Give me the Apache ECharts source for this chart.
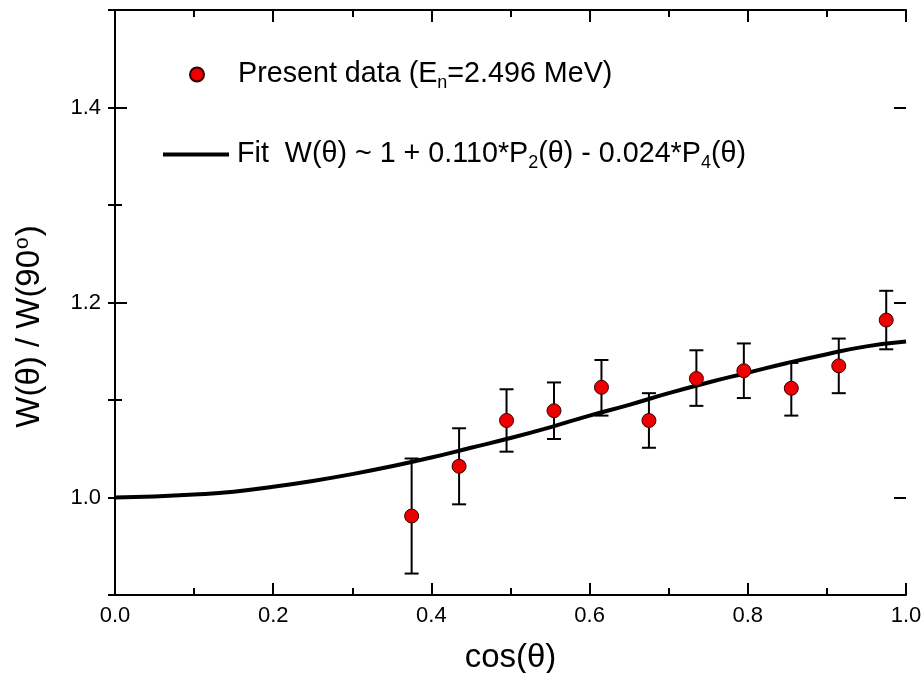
<!DOCTYPE html>
<html><head><meta charset="utf-8">
<script src="https://cdn.jsdelivr.net/npm/echarts@6/dist/echarts.min.js"></script>
<style>html,body{margin:0;padding:0;background:#fff}#c{width:924px;height:673px}</style>
</head><body><div id="c"></div>
<script>
// measured points: cos(theta), W(theta)/W(90)
const cosTheta = [0.375, 0.435, 0.495, 0.555, 0.615, 0.675, 0.735, 0.795, 0.855, 0.915, 0.975];
const ratio    = [0.981, 1.032, 1.079, 1.089, 1.113, 1.079, 1.122, 1.130, 1.112, 1.135, 1.182];
const errLow   = [0.922, 0.993, 1.047, 1.060, 1.084, 1.051, 1.094, 1.102, 1.084, 1.107, 1.152];
const errHigh  = [1.040, 1.071, 1.111, 1.118, 1.141, 1.107, 1.151, 1.158, 1.138, 1.163, 1.212];
// fit curve
const fitX = [0, 0.05, 0.1, 0.15, 0.2, 0.25, 0.3, 0.35, 0.4, 0.45, 0.5, 0.55, 0.6, 0.65, 0.7, 0.75, 0.8, 0.85, 0.9, 0.95, 1.0];
const fitY = [1.000, 1.001, 1.003, 1.006, 1.011, 1.017, 1.024, 1.032, 1.041, 1.051, 1.061, 1.072, 1.084, 1.095, 1.107, 1.118, 1.128, 1.138, 1.147, 1.155, 1.160];
// axes
const xMin = 0, xMax = 1, xStep = 0.2;
const yMin = 0.9, yMax = 1.5, yMinorStep = 0.1, yMajorStep = 0.2;
const yMajorLabels = ['1.0', '1.2', '1.4'];
const seriesNames = ['Present data', 'Fit'];

const FONT = '"Liberation Sans", Arial, sans-serif';
const chart = echarts.init(document.getElementById('c'), null, {renderer: 'canvas'});

const axisLine = {show: true, lineStyle: {color: '#000', width: 2}};
const gridTop = 10, gridBottom = 78, H = 673;
const pxPerUnit = (H - gridTop - gridBottom) / (yMax - yMin);
const ext = yMinorStep * pxPerUnit;
const LEG_FS = 28.7;

const option = {
  backgroundColor: '#fff',
  animation: false,
  textStyle: {fontFamily: FONT, color: '#000'},
  grid: [
    {left: 115, right: 18, top: gridTop, bottom: gridBottom, containLabel: false, outerBoundsMode: 'none'},
    {left: 115, right: 18, top: gridTop - ext, bottom: gridBottom - ext, containLabel: false, outerBoundsMode: 'none'}
  ],
  legend: [
    {
      data: [{name: seriesNames[0], icon: 'circle'}],
      left: 189, top: 60, itemWidth: 14, itemHeight: 14, padding: 0,
      selectedMode: false,
      textStyle: {fontFamily: FONT, fontSize: LEG_FS, color: '#000', padding: [0, 0, 0, 29],
        rich: {s: {fontFamily: FONT, fontSize: 18, padding: [17, 0, 0, 0], color: '#000'}}},
      formatter: () => 'Present data (E{s|n}=2.496 MeV)'
    },
    {
      data: [{name: seriesNames[1], icon: 'rect'}],
      left: 163, top: 140, itemWidth: 66, itemHeight: 4, padding: 0,
      selectedMode: false,
      textStyle: {fontFamily: FONT, fontSize: LEG_FS, color: '#000', padding: [0, 0, 0, 3],
        rich: {s: {fontFamily: FONT, fontSize: 18, padding: [17, 0, 0, 0], color: '#000'}}},
      formatter: () => 'Fit  W(θ) ~ 1 + 0.110*P{s|2}(θ) - 0.024*P{s|4}(θ)'
    }
  ],
  xAxis: [
    {
      type: 'value', gridIndex: 0, position: 'bottom', min: xMin, max: xMax, interval: xStep,
      axisLine, splitLine: {show: false},
      axisTick: {show: true, inside: true, length: 12, lineStyle: {color: '#000', width: 2}},
      minorTick: {show: true, splitNumber: 2, length: 7, lineStyle: {color: '#000', width: 2}},
      axisLabel: {show: true, fontSize: 22, color: '#000', fontFamily: FONT, margin: 10,
        formatter: v => v.toFixed(1)},
      name: 'cos(θ)', nameLocation: 'middle', nameGap: 46,
      nameTextStyle: {fontSize: 33, fontFamily: FONT, color: '#000'}
    },
    {
      type: 'value', gridIndex: 0, position: 'top', min: xMin, max: xMax, interval: xStep,
      axisLine, splitLine: {show: false},
      axisTick: {show: true, inside: true, length: 12, lineStyle: {color: '#000', width: 2}},
      minorTick: {show: true, splitNumber: 2, length: 7, lineStyle: {color: '#000', width: 2}},
      axisLabel: {show: false}
    },
    {type: 'value', gridIndex: 1, min: xMin, max: xMax, show: false}
  ],
  yAxis: [
    {
      type: 'value', gridIndex: 0, position: 'left', min: yMin, max: yMax, interval: yMinorStep,
      axisLine, splitLine: {show: false},
      axisTick: {show: true, inside: true, length: 7, lineStyle: {color: '#000', width: 2}},
      axisLabel: {show: false},
      name: '{a|W(θ) / W(90}{sup|o}{a|)}', nameLocation: 'middle', nameGap: 67, nameRotate: 90,
      nameTextStyle: {fontFamily: FONT, color: '#000', padding: [0, 48, 0, 0],
        rich: {a: {fontSize: 33, fontFamily: FONT, color: '#000'},
               sup: {fontSize: 21, fontFamily: FONT, color: '#000', padding: [0, 1, 15, 1]}}}
    },
    {
      type: 'value', gridIndex: 0, position: 'right', min: yMin, max: yMax, interval: yMinorStep,
      axisLine, splitLine: {show: false},
      axisTick: {show: true, inside: true, length: 7, lineStyle: {color: '#000', width: 2}},
      axisLabel: {show: false}
    },
    {
      type: 'value', gridIndex: 1, position: 'left', min: yMin - yMinorStep, max: yMax + yMinorStep, interval: yMajorStep,
      axisLine: {show: false}, splitLine: {show: false},
      axisTick: {show: true, inside: true, length: 12, lineStyle: {color: '#000', width: 2}},
      axisLabel: {show: true, fontSize: 22, color: '#000', fontFamily: FONT, margin: 14,
        formatter: v => { const s = v.toFixed(1); return yMajorLabels.includes(s) ? s : ''; }}
    },
    {
      type: 'value', gridIndex: 1, position: 'right', min: yMin - yMinorStep, max: yMax + yMinorStep, interval: yMajorStep,
      axisLine: {show: false}, splitLine: {show: false},
      axisTick: {show: true, inside: true, length: 12, lineStyle: {color: '#000', width: 2}},
      axisLabel: {show: false}
    }
  ],
  series: [
    {
      type: 'custom', name: 'err', xAxisIndex: 0, yAxisIndex: 0, z: 3,
      data: cosTheta.map((x, i) => [x, errLow[i], errHigh[i]]),
      encode: {x: 0, y: [1, 2]},
      renderItem: (params, api) => {
        const x = api.value(0);
        const lo = api.coord([x, api.value(1)]);
        const hi = api.coord([x, api.value(2)]);
        const w = 7;
        const st = {stroke: '#000', lineWidth: 2};
        return {type: 'group', children: [
          {type: 'line', shape: {x1: lo[0], y1: lo[1], x2: hi[0], y2: hi[1]}, style: st},
          {type: 'line', shape: {x1: lo[0] - w, y1: lo[1], x2: lo[0] + w, y2: lo[1]}, style: st},
          {type: 'line', shape: {x1: hi[0] - w, y1: hi[1], x2: hi[0] + w, y2: hi[1]}, style: st}
        ]};
      }
    },
    {
      type: 'line', name: seriesNames[1], xAxisIndex: 0, yAxisIndex: 0, z: 4,
      data: fitX.map((x, i) => [x, fitY[i]]),
      smooth: true, symbol: 'none', showSymbol: false,
      lineStyle: {color: '#000', width: 4}, itemStyle: {color: '#000'}
    },
    {
      type: 'scatter', name: seriesNames[0], xAxisIndex: 0, yAxisIndex: 0, z: 5,
      data: cosTheta.map((x, i) => [x, ratio[i]]),
      symbol: 'circle', symbolSize: 14,
      itemStyle: {color: '#ee0000', borderColor: '#300', borderWidth: 1, opacity: 1}
    }
  ]
};
chart.setOption(option);
</script>
</body></html>
